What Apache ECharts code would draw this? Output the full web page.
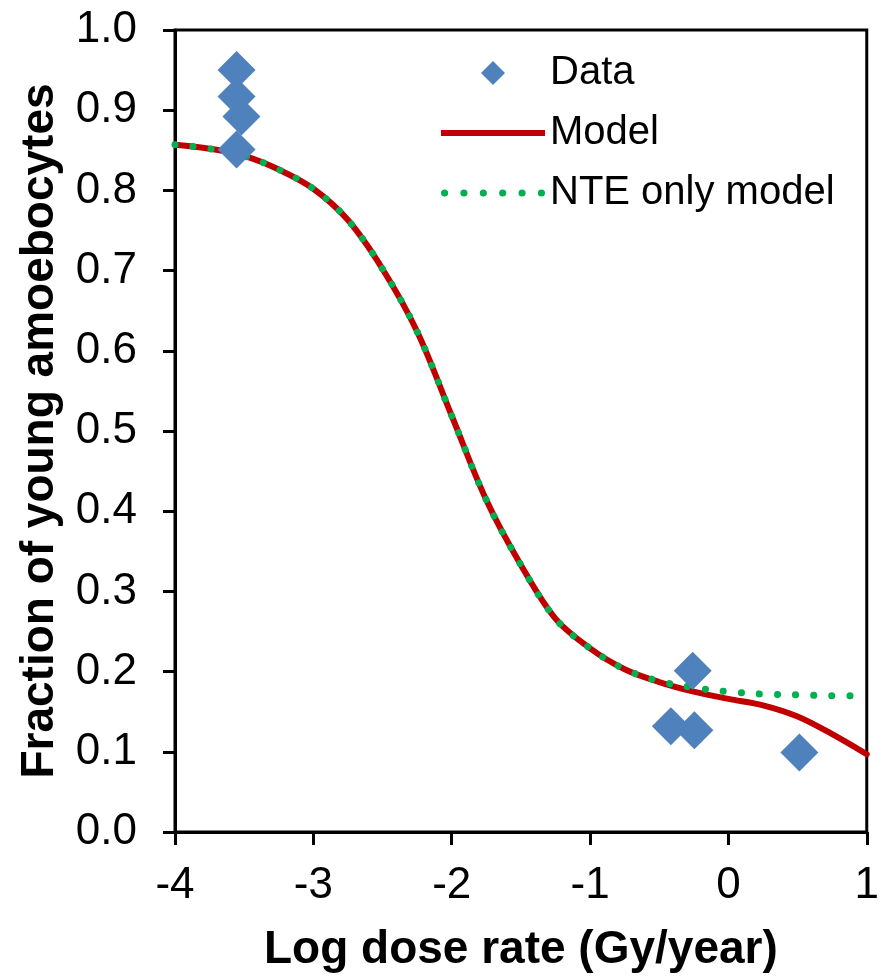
<!DOCTYPE html>
<html>
<head>
<meta charset="utf-8">
<script src="https://cdn.jsdelivr.net/npm/echarts@6/dist/echarts.min.js"></script>
<style>
html,body{margin:0;padding:0;background:#fff;}
#chart{width:882px;height:978px;}
</style>
</head>
<body>
<div id="chart"></div>
<script>
// Observed data points (log dose rate, fraction)
const dataX = [-3.555, -3.555, -3.52, -3.555, -0.258, -0.416, -0.246, 0.513];
const dataY = [0.950, 0.917, 0.892, 0.851, 0.201, 0.132, 0.127, 0.099];

// Model curves sampled along the x axis
const curveX = [-4.00, -3.75, -3.50, -3.25, -3.00, -2.75, -2.50, -2.25, -2.00, -1.75, -1.50, -1.25, -1.00, -0.75, -0.50, -0.25, 0.00, 0.25, 0.50, 0.75, 1.00];
const modelY = [0.857, 0.852, 0.843, 0.826, 0.802, 0.763, 0.702, 0.624, 0.519, 0.414, 0.333, 0.266, 0.229, 0.203, 0.187, 0.175, 0.166, 0.158, 0.144, 0.122, 0.097];
const nteY   = [0.857, 0.852, 0.843, 0.826, 0.802, 0.763, 0.702, 0.624, 0.519, 0.414, 0.333, 0.266, 0.229, 0.203, 0.188, 0.180, 0.175, 0.172, 0.171, 0.170, 0.170];

// Axis ticks
const xTicks = [-4, -3, -2, -1, 0, 1];
const yTicks = [0.0, 0.1, 0.2, 0.3, 0.4, 0.5, 0.6, 0.7, 0.8, 0.9, 1.0];

const seriesNames = ['Data', 'Model', 'NTE only model'];
const xTitle = 'Log dose rate (Gy/year)';
const yTitle = 'Fraction of young amoebocytes';

const FONT = 'Liberation Sans, Arial, sans-serif';
const RED = '#C00000', GREEN = '#00B050', BLUE = '#4F81BD';
const chart = echarts.init(document.getElementById('chart'), null, {renderer: 'canvas'});

const pairs = (xs, ys) => xs.map((x, i) => [x, ys[i]]);

// legend icon shapes
let dotsPath = 'path://';
for (let i = 0; i < 6; i++) {
  const cx = 3.5 + i * 19;
  dotsPath += 'M' + (cx - 3.5) + ',3.5a3.5,3.5 0 1,0 7,0a3.5,3.5 0 1,0 -7,0Z';
}
const barPath = 'path://M0,0L104,0L104,6L0,6Z';
const diamondPath = 'path://M12,0L24,12L12,24L0,12Z';

chart.setOption({
  animation: false,
  backgroundColor: '#ffffff',
  grid: {
    left: 175, right: 10, top: 30, bottom: 144,
    show: true, borderColor: '#000', borderWidth: 3, containLabel: false
  },
  legend: {
    orient: 'vertical',
    left: 436, top: 45,
    itemWidth: 104, itemHeight: 24, itemGap: 14,
    symbolKeepAspect: true,
    textStyle: {fontFamily: FONT, fontSize: 40, color: '#000', lineHeight: 46},
    data: [
      {name: seriesNames[0], icon: diamondPath, itemStyle: {color: BLUE, borderWidth: 0}},
      {name: seriesNames[1], icon: barPath, itemStyle: {color: RED, borderWidth: 0}},
      {name: seriesNames[2], icon: dotsPath, itemStyle: {color: GREEN, borderWidth: 0}}
    ]
  },
  xAxis: {
    type: 'value',
    min: xTicks[0], max: xTicks[xTicks.length - 1], interval: 1,
    name: xTitle, nameLocation: 'middle', nameGap: 95,
    nameTextStyle: {fontFamily: FONT, fontSize: 46, fontWeight: 'bold', color: '#000'},
    axisLine: {show: true, onZero: false, lineStyle: {color: '#000', width: 3}},
    axisTick: {show: true, inside: false, length: 13, lineStyle: {color: '#000', width: 3}},
    axisLabel: {fontFamily: FONT, fontSize: 44, color: '#000', margin: 32,
      formatter: v => String(Math.round(v))},
    splitLine: {show: false}
  },
  yAxis: {
    type: 'value',
    min: yTicks[0], max: yTicks[yTicks.length - 1], interval: 0.1,
    name: yTitle, nameLocation: 'middle', nameGap: 112,
    nameTextStyle: {fontFamily: FONT, fontSize: 46, fontWeight: 'bold', color: '#000'},
    axisLine: {show: true, onZero: false, lineStyle: {color: '#000', width: 3}},
    axisTick: {show: true, inside: false, length: 12, lineStyle: {color: '#000', width: 3}},
    axisLabel: {fontFamily: FONT, fontSize: 44, color: '#000', margin: 38,
      formatter: v => v.toFixed(1)},
    splitLine: {show: false}
  },
  series: [
    {
      name: seriesNames[0], type: 'scatter', data: pairs(dataX, dataY),
      symbol: 'diamond', symbolSize: 38, symbolKeepAspect: true, z: 4,
      itemStyle: {color: BLUE, opacity: 1}
    },
    {
      name: seriesNames[1], type: 'line', data: pairs(curveX, modelY),
      smooth: 0.35, showSymbol: false, symbol: 'none', z: 2,
      lineStyle: {color: RED, width: 6, cap: 'round'},
      itemStyle: {color: RED}
    },
    {
      name: seriesNames[2], type: 'line', data: pairs(curveX, nteY),
      smooth: 0.35, showSymbol: false, symbol: 'none', z: 3,
      lineStyle: {color: GREEN, width: 7, type: [0.1, 18], cap: 'round'},
      itemStyle: {color: GREEN}
    }
  ]
});
</script>
</body>
</html>
